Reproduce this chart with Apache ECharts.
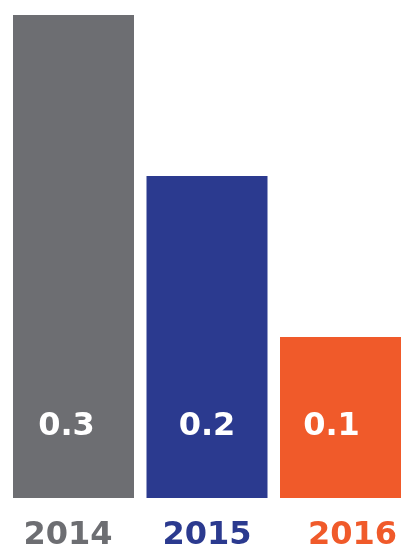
<!DOCTYPE html>
<html><head><meta charset="utf-8">
<script src="https://cdn.jsdelivr.net/npm/echarts@6/dist/echarts.min.js"></script>
<style>html,body{margin:0;padding:0;background:#fff}#c{width:402px;height:558px}</style>
</head><body><div id="c"></div>
<script>
const categories = ['2014', '2015', '2016'];
const values = [0.3, 0.2, 0.1];
const valueLabels = ['0.3', '0.2', '0.1'];
const colors = ['#6d6e72', '#2b3a8f', '#f05a2a'];
const valueLabelOffsets = [[-7, 2], [0, 2], [-9, 2]];
const catKeys = ['a', 'b', 'c'];

const chart = echarts.init(document.getElementById('c'), null, {renderer: 'canvas'});
const font = 'DejaVu Sans';
chart.setOption({
  animation: false,
  grid: {left: 73.5, top: 15, width: 267, bottom: 60, containLabel: false},
  xAxis: {
    type: 'category', data: categories, boundaryGap: false,
    axisLine: {show: false}, axisTick: {show: false}, splitLine: {show: false},
    axisLabel: {
      margin: 22,
      formatter: (v, i) => '{' + catKeys[i] + '|' + v + '}',
      rich: {
        a: {color: colors[0], fontFamily: font, fontWeight: 'bold', fontSize: 32, padding: [0, 11, 0, 0]},
        b: {color: colors[1], fontFamily: font, fontWeight: 'bold', fontSize: 32},
        c: {color: colors[2], fontFamily: font, fontWeight: 'bold', fontSize: 32, padding: [0, 0, 0, 24]}
      }
    }
  },
  yAxis: {type: 'value', min: 0, max: 0.3, show: false, splitLine: {show: false}},
  series: [{
    type: 'bar', barWidth: 121,
    data: values.map((v, i) => ({
      value: v,
      itemStyle: {color: colors[i]},
      label: {formatter: valueLabels[i], offset: valueLabelOffsets[i]}
    })),
    label: {
      show: true, position: 'insideBottom', distance: 57,
      color: '#fff', fontFamily: font, fontWeight: 'bold', fontSize: 32
    }
  }]
});
</script></body></html>
